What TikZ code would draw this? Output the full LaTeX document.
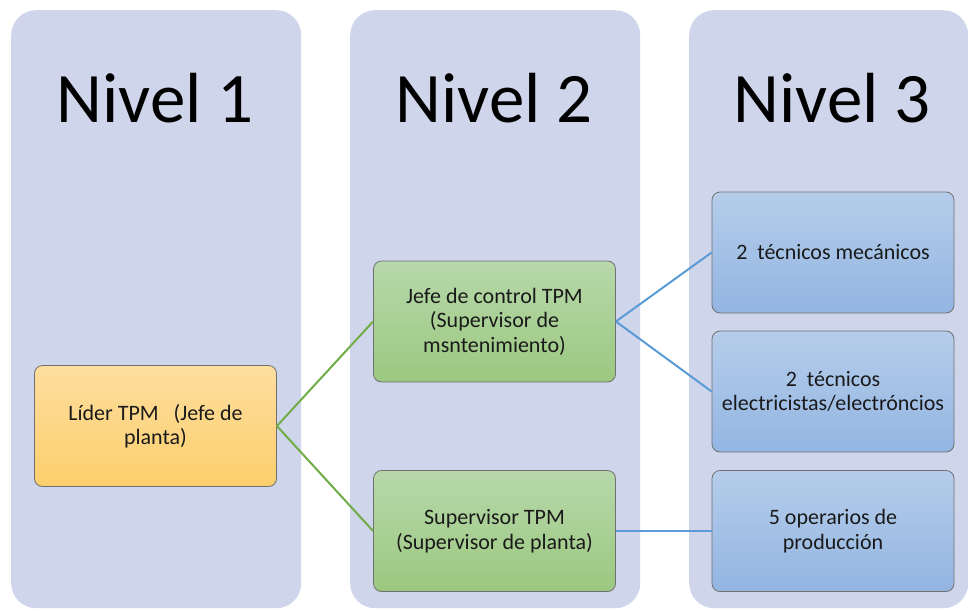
\documentclass[tikz,border=0pt]{standalone}
\usepackage{fontspec}
\setmainfont{Carlito}
\definecolor{colfill}{HTML}{CFD5EA}
\definecolor{orgtop}{HTML}{FEDE9F}
\definecolor{orgbot}{HTML}{FCCF6C}
\definecolor{grntop}{HTML}{B7D8AA}
\definecolor{grnbot}{HTML}{9BC880}
\definecolor{blutop}{HTML}{B5CDEA}
\definecolor{blubot}{HTML}{93B5E2}
\definecolor{boxline}{HTML}{707070}
\definecolor{grnline}{HTML}{70AD47}
\definecolor{bluline}{HTML}{5B9BD5}
\definecolor{txt}{HTML}{1A1A1A}
\tikzset{
  column/.style={fill=colfill, draw=none, rounded corners=25pt, anchor=north west, inner sep=0pt},
  title/.style={font=\fontsize{71}{78}\selectfont, text=black, anchor=center},
  box/.style={rounded corners=8pt, draw=boxline, line width=0.8pt, minimum width=242pt, minimum height=121pt,
    align=center, text=txt, font=\fontsize{22}{24.5}\selectfont, inner sep=2pt},
  orangebox/.style={box, top color=orgtop, bottom color=orgbot},
  greenbox/.style={box, top color=grntop, bottom color=grnbot},
  bluebox/.style={box, top color=blutop, bottom color=blubot},
  gline/.style={draw=grnline, line width=2pt},
  bline/.style={draw=bluline, line width=2pt}
}
\begin{document}
\begin{tikzpicture}[x=1pt,y=-1pt]
\useasboundingbox (0,0) rectangle (968,610);
\fill[white] (0,0) rectangle (968,610);
\node[column, minimum width=290pt, minimum height=598pt] (c1) at (11,10) {};
\node[column, minimum width=290pt, minimum height=598pt] (c2) at (350,10) {};
\node[column, minimum width=279pt, minimum height=598pt] (c3) at (689,10) {};
\node[title] (t1) at (155,98) {Nivel 1};
\node[title] (t2) at (494,98) {Nivel 2};
\node[title] (t3) at (832,98) {Nivel 3};

\node[orangebox] (lider) at (155.5,426) {Líder TPM\ \ \ (Jefe de\\planta)};
\node[greenbox] (jefe) at (494.5,321.5) {Jefe de control TPM\\(Supervisor de\\msntenimiento)};
\node[greenbox] (sup) at (494.5,531) {Supervisor TPM\\(Supervisor de planta)};
\node[bluebox] (b1) at (833,252.5) {2\ \ técnicos mecánicos};
\node[bluebox] (b2) at (833,391.5) {2\ \ técnicos\\electricistas/electróncios};
\node[bluebox] (b3) at (833,531) {5 operarios de\\producción};

\draw[gline] (lider.east) -- (jefe.west);
\draw[gline] (lider.east) -- (sup.west);
\draw[bline] (jefe.east) -- (b1.west);
\draw[bline] (jefe.east) -- (b2.west);
\draw[bline] (sup.east) -- (b3.west);
\end{tikzpicture}
\end{document}
